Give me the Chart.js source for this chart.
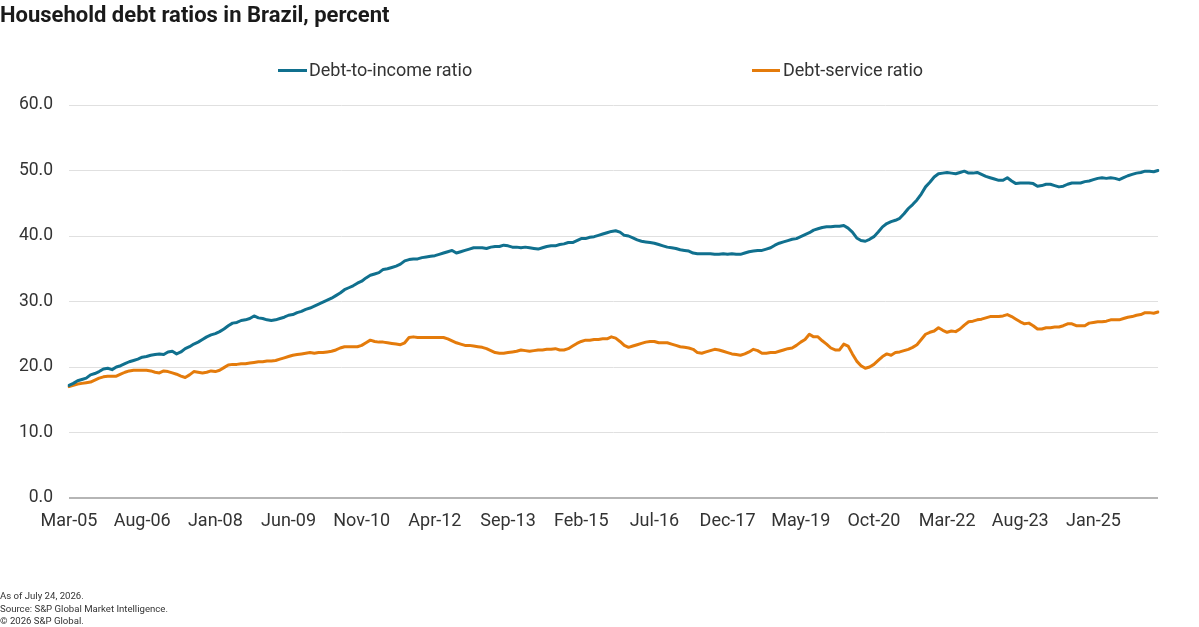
<!DOCTYPE html>
<html>
<head>
<meta charset="utf-8">
<script src="https://cdn.jsdelivr.net/npm/chart.js@4.4.1/dist/chart.umd.min.js"></script>
<style>
  html, body { margin: 0; padding: 0; background: #ffffff; }
  #wrap { position: relative; width: 1199px; height: 627px; overflow: hidden; font-family: Roboto, "Liberation Sans", sans-serif; color: #333333; }
  #title { position: absolute; left: 0px; top: 1px; font-weight: 700; font-size: 22px; line-height: 28px; color: #1a1a1a; white-space: nowrap; }
  .leg { position: absolute; top: 59px; height: 22px; font-size: 18px; line-height: 22px; color: #333333; white-space: nowrap; }
  .leg .sw { position: absolute; left: 0; top: 10px; height: 3px; }
  .leg .tx { position: absolute; top: 0; }
  #foot { position: absolute; left: 0px; top: 590px; font-size: 9.6px; line-height: 12.5px; color: #333333; }
  canvas { position: absolute; left: 0; top: 0; }
</style>
</head>
<body>
<div id="wrap">
  <canvas id="c" width="1199" height="627"></canvas>
  <div id="title">Household debt ratios in Brazil, percent</div>
  <div class="leg" style="left:278px;"><span class="sw" style="width:29px;background:#10708E;"></span><span class="tx" style="left:31px;">Debt-to-income ratio</span></div>
  <div class="leg" style="left:752px;"><span class="sw" style="width:28px;background:#E47B0B;"></span><span class="tx" style="left:31px;">Debt-service ratio</span></div>
  <div id="foot">As of July 24, 2026.<br>Source: S&amp;P Global Market Intelligence.<br>&copy; 2026 S&amp;P Global.</div>
</div>
<script>
// Categories: monthly, Mar-05 .. Apr-26
const monthNames = ['Jan','Feb','Mar','Apr','May','Jun','Jul','Aug','Sep','Oct','Nov','Dec'];
const startYear = 2005, startMonth = 2, monthCount = 254;
const categories = [];
for (let k = 0; k < monthCount; k++) {
  const m = (startMonth + k) % 12;
  const y = startYear + Math.floor((startMonth + k) / 12);
  categories.push(monthNames[m] + '-' + String(y % 100).padStart(2, '0'));
}

const tickLabels = ['Mar-05','Aug-06','Jan-08','Jun-09','Nov-10','Apr-12','Sep-13','Feb-15','Jul-16','Dec-17','May-19','Oct-20','Mar-22','Aug-23','Jan-25'];
const yTicks = [0, 10, 20, 30, 40, 50, 60];

const debtToIncome = [
17.2,17.5,17.9,18.1,18.3,18.8,19.0,19.3,19.7,19.8,19.6,20.0,
20.2,20.5,20.8,21.0,21.2,21.5,21.6,21.8,21.9,22.0,21.9,22.3,
22.4,22.0,22.3,22.8,23.1,23.5,23.8,24.2,24.6,24.9,25.1,25.4,
25.8,26.3,26.7,26.8,27.1,27.2,27.4,27.8,27.5,27.4,27.2,27.1,
27.2,27.4,27.6,27.9,28.0,28.3,28.5,28.8,29.0,29.3,29.6,29.9,
30.2,30.5,30.9,31.3,31.8,32.1,32.4,32.8,33.1,33.6,34.0,34.2,
34.4,34.9,35.0,35.2,35.4,35.7,36.2,36.4,36.5,36.5,36.7,36.8,
36.9,37.0,37.2,37.4,37.6,37.8,37.4,37.6,37.8,38.0,38.2,38.2,
38.2,38.1,38.3,38.4,38.4,38.6,38.5,38.3,38.3,38.2,38.3,38.2,
38.1,38.0,38.2,38.4,38.5,38.5,38.7,38.8,39.0,39.0,39.3,39.6,
39.6,39.8,39.9,40.1,40.3,40.5,40.7,40.8,40.6,40.1,40.0,39.7,
39.4,39.2,39.1,39.0,38.9,38.7,38.5,38.3,38.2,38.1,37.9,37.8,
37.7,37.4,37.3,37.3,37.3,37.3,37.2,37.2,37.3,37.2,37.3,37.2,
37.2,37.4,37.6,37.7,37.8,37.8,38.0,38.2,38.6,38.9,39.1,39.3,
39.5,39.6,39.9,40.2,40.5,40.9,41.1,41.3,41.4,41.4,41.5,41.5,
41.6,41.2,40.6,39.7,39.3,39.2,39.5,39.9,40.6,41.4,41.9,42.2,
42.4,42.7,43.4,44.2,44.8,45.5,46.4,47.5,48.2,49.0,49.5,49.6,
49.7,49.6,49.5,49.7,49.9,49.6,49.6,49.7,49.4,49.1,48.9,48.7,
48.5,48.5,48.9,48.4,48.0,48.1,48.1,48.1,48.0,47.6,47.7,47.9,
47.9,47.7,47.5,47.6,47.9,48.1,48.1,48.1,48.3,48.4,48.6,48.8,
48.9,48.8,48.9,48.8,48.6,48.9,49.2,49.4,49.6,49.7,49.9,49.9,
49.8,50.0
];

const debtService = [
17.0,17.2,17.4,17.5,17.6,17.7,18.0,18.3,18.5,18.6,18.6,18.6,
18.9,19.2,19.4,19.5,19.5,19.5,19.5,19.4,19.2,19.1,19.4,19.3,
19.1,18.9,18.6,18.4,18.8,19.3,19.2,19.1,19.2,19.4,19.3,19.5,
19.9,20.3,20.4,20.4,20.5,20.5,20.6,20.7,20.8,20.8,20.9,20.9,
21.0,21.2,21.4,21.6,21.8,21.9,22.0,22.1,22.2,22.1,22.2,22.2,
22.3,22.4,22.6,22.9,23.1,23.1,23.1,23.1,23.3,23.7,24.1,23.9,
23.8,23.8,23.7,23.6,23.5,23.4,23.7,24.5,24.6,24.5,24.5,24.5,
24.5,24.5,24.5,24.5,24.3,24.0,23.7,23.5,23.3,23.3,23.2,23.1,
23.0,22.8,22.5,22.2,22.1,22.1,22.2,22.3,22.4,22.6,22.5,22.4,
22.5,22.6,22.6,22.7,22.7,22.8,22.6,22.6,22.8,23.2,23.6,23.9,
24.1,24.1,24.2,24.2,24.3,24.3,24.6,24.4,23.9,23.3,23.0,23.2,
23.4,23.6,23.8,23.9,23.9,23.7,23.7,23.7,23.5,23.3,23.1,23.0,
22.9,22.7,22.2,22.1,22.3,22.5,22.7,22.6,22.4,22.2,22.0,21.9,
21.8,22.0,22.3,22.7,22.5,22.1,22.1,22.2,22.2,22.4,22.6,22.8,
22.9,23.3,23.8,24.2,25.0,24.6,24.6,24.0,23.5,22.9,22.6,22.6,
23.5,23.2,22.0,20.9,20.2,19.8,20.0,20.4,21.0,21.6,22.0,21.8,
22.2,22.3,22.5,22.7,23.0,23.4,24.2,25.0,25.3,25.5,26.0,25.6,
25.3,25.5,25.4,25.8,26.4,26.9,27.0,27.2,27.3,27.5,27.7,27.7,
27.7,27.8,28.0,27.7,27.3,26.9,26.6,26.7,26.3,25.8,25.8,26.0,
26.0,26.1,26.1,26.3,26.6,26.6,26.3,26.3,26.3,26.7,26.8,26.9,
26.9,27.0,27.2,27.2,27.2,27.4,27.6,27.7,27.9,28.0,28.3,28.3,
28.2,28.4
];

const seriesNames = ['Debt-to-income ratio', 'Debt-service ratio'];
const seriesColors = ['#10708E', '#E47B0B'];

const chart = new Chart(document.getElementById('c'), {
  type: 'line',
  data: {
    labels: categories,
    datasets: [
      { label: seriesNames[0], data: debtToIncome, borderColor: seriesColors[0], backgroundColor: seriesColors[0], borderWidth: 3, pointRadius: 0, tension: 0, borderCapStyle: 'round', borderJoinStyle: 'round' },
      { label: seriesNames[1], data: debtService, borderColor: seriesColors[1], backgroundColor: seriesColors[1], borderWidth: 3, pointRadius: 0, tension: 0, borderCapStyle: 'round', borderJoinStyle: 'round' }
    ]
  },
  options: {
    responsive: false,
    animation: false,
    devicePixelRatio: 1,
    layout: { padding: { left: 0, right: 41, top: 105, bottom: 0 } },
    plugins: { legend: { display: false }, tooltip: { enabled: false }, title: { display: false } },
    scales: {
      x: {
        type: 'category',
        offset: false,
        afterFit: (s) => { s.height = 129; },
        grid: { display: false, drawTicks: false },
        border: { display: false },
        ticks: {
          autoSkip: false,
          maxRotation: 0,
          minRotation: 0,
          padding: 13,
          color: '#333333',
          font: { family: 'Roboto', size: 18 },
          callback: function (v, i) { const l = categories[i]; return tickLabels.includes(l) ? l : ''; }
        }
      },
      y: {
        min: yTicks[0],
        max: yTicks[yTicks.length - 1],
        afterFit: (s) => { s.width = 69; },
        afterBuildTicks: (s) => { s.ticks = yTicks.map(v => ({ value: v })); },
        border: { display: false },
        grid: {
          drawTicks: false,
          color: (ctx) => (ctx.tick && ctx.tick.value === 0) ? '#b5b5b5' : '#e0e0e0',
          lineWidth: (ctx) => (ctx.tick && ctx.tick.value === 0) ? 2 : 1
        },
        ticks: {
          padding: 16,
          color: '#333333',
          font: { family: 'Roboto', size: 17.5 },
          callback: (v) => Number(v).toFixed(1)
        }
      }
    }
  }
});
</script>
</body>
</html>
